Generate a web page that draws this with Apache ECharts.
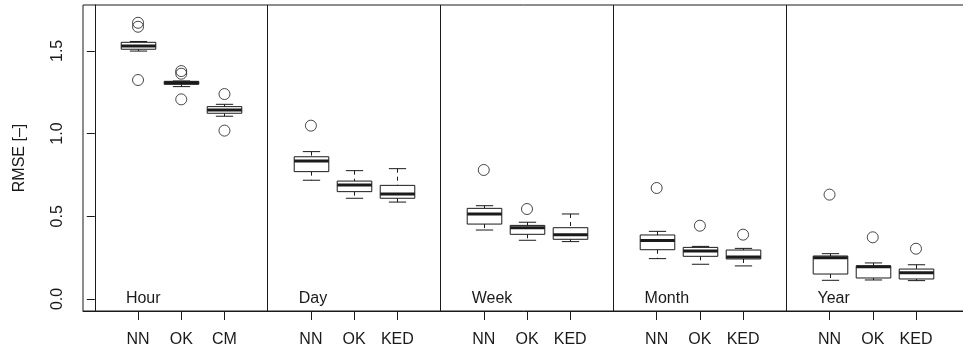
<!DOCTYPE html>
<html>
<head>
<meta charset="utf-8">
<title>RMSE by aggregation period</title>
<script src="https://cdn.jsdelivr.net/npm/echarts@6/dist/echarts.min.js"></script>
<style>
  html, body { margin: 0; padding: 0; background: #fff; }
  #chart { width: 963px; height: 356px; }
</style>
</head>
<body>
<div id="chart"></div>
<script>
// Aggregation periods (panels) and the methods compared in each
const periods = ['Hour', 'Day', 'Week', 'Month', 'Year'];
const methods = [
  ['NN', 'OK', 'CM'],
  ['NN', 'OK', 'KED'],
  ['NN', 'OK', 'KED'],
  ['NN', 'OK', 'KED'],
  ['NN', 'OK', 'KED']
];

// Box statistics, one entry per box in panel order
const whiskerLow  = [1.499, 1.284, 1.105, 0.718, 0.609, 0.586, 0.417, 0.355, 0.347, 0.244, 0.210, 0.200, 0.113, 0.115, 0.111];
const quartile1   = [1.510, 1.298, 1.123, 0.770, 0.649, 0.609, 0.453, 0.391, 0.361, 0.298, 0.258, 0.242, 0.151, 0.127, 0.121];
const medians     = [1.530, 1.307, 1.143, 0.834, 0.689, 0.635, 0.514, 0.431, 0.389, 0.353, 0.290, 0.254, 0.250, 0.195, 0.159];
const quartile3   = [1.552, 1.316, 1.163, 0.860, 0.713, 0.687, 0.548, 0.445, 0.431, 0.387, 0.312, 0.296, 0.260, 0.200, 0.181];
const whiskerHigh = [1.557, 1.318, 1.177, 0.891, 0.776, 0.788, 0.564, 0.464, 0.514, 0.409, 0.318, 0.306, 0.274, 0.218, 0.207];

// Outlying values: [box index, RMSE]
const outliers = [
  [0, 1.670], [0, 1.646], [0, 1.324],
  [1, 1.378], [1, 1.362], [1, 1.207],
  [2, 1.239], [2, 1.018],
  [3, 1.048],
  [6, 0.780], [7, 0.544],
  [9, 0.671], [10, 0.443], [11, 0.389],
  [12, 0.631], [13, 0.373], [14, 0.304]
];

// Y axis tick values
const yTicks = [0, 0.5, 1.0, 1.5];

// ---- derived layout: each panel holds three boxes and a gap slot ----
const slotsPerPanel = 4;
const boxPos = [];
const boxName = [];
periods.forEach((p, g) => {
  methods[g].forEach((m, k) => {
    boxPos.push(g * slotsPerPanel + k + 1);
    boxName.push(m);
  });
});
const labelByPos = {};
boxPos.forEach((x, i) => { labelByPos[x] = boxName[i]; });
const dividers = periods.slice(1).map((p, g) => (g + 1) * slotsPerPanel);

const boxData = boxPos.map((x, i) => [x, whiskerLow[i], quartile1[i], medians[i], quartile3[i], whiskerHigh[i]]);
const outlierData = outliers.map(o => [boxPos[o[0]], o[1]]);
const panelData = periods.map((p, g) => [g * slotsPerPanel + 1, 0]);

const ink = '#1a1a1a';
const font = 'Liberation Sans, Arial, Helvetica, sans-serif';

function renderBox(params, api) {
  const x = api.value(0);
  const pLo = api.coord([x, api.value(1)]);
  const pQ1 = api.coord([x, api.value(2)]);
  const pMd = api.coord([x, api.value(3)]);
  const pQ3 = api.coord([x, api.value(4)]);
  const pHi = api.coord([x, api.value(5)]);
  const half = api.size([0.8, 0])[0] / 2;
  const cap = half / 2;
  const cx = Math.round(pMd[0]) + 0.5;
  return {
    type: 'group',
    children: [
      { type: 'line', shape: { x1: cx, y1: pHi[1], x2: cx, y2: pQ3[1] },
        style: { stroke: ink, lineWidth: 1, lineDash: [4, 4] } },
      { type: 'line', shape: { x1: cx, y1: pQ1[1], x2: cx, y2: pLo[1] },
        style: { stroke: ink, lineWidth: 1, lineDash: [4, 4] } },
      { type: 'line', shape: { x1: cx - cap, y1: pHi[1], x2: cx + cap, y2: pHi[1] },
        style: { stroke: ink, lineWidth: 1 } },
      { type: 'line', shape: { x1: cx - cap, y1: pLo[1], x2: cx + cap, y2: pLo[1] },
        style: { stroke: ink, lineWidth: 1 } },
      { type: 'rect', shape: { x: cx - half, y: pQ3[1], width: 2 * half, height: pQ1[1] - pQ3[1] },
        style: { fill: '#fff', stroke: ink, lineWidth: 1 } },
      { type: 'line', shape: { x1: cx - half, y1: pMd[1], x2: cx + half, y2: pMd[1] },
        style: { stroke: ink, lineWidth: 3 } }
    ]
  };
}

function renderPanelLabel(params, api) {
  const p = api.coord([api.value(0), api.value(1)]);
  const off = api.size([0.28, 0])[0];
  return {
    type: 'text',
    x: p[0] - off,
    y: p[1],
    style: {
      text: periods[params.dataIndex],
      fill: ink,
      font: '16px ' + font,
      align: 'left',
      verticalAlign: 'middle'
    }
  };
}

const chart = echarts.init(document.getElementById('chart'), null, { renderer: 'canvas' });
chart.setOption({
  animation: false,
  backgroundColor: '#fff',
  grid: {
    left: 83, right: -8, top: 5, bottom: 45,
    show: true, borderColor: ink, borderWidth: 1, backgroundColor: 'transparent',
    containLabel: false, outerBoundsMode: 'none'
  },
  xAxis: {
    type: 'value',
    min: -0.273, max: 20.273,
    splitLine: { show: false },
    axisLine: { show: true, onZero: false, lineStyle: { color: ink } },
    axisTick: { show: true, length: 9, customValues: boxPos, lineStyle: { color: ink } },
    axisLabel: {
      show: true, customValues: boxPos, margin: 21,
      color: ink, fontSize: 16, fontFamily: font,
      formatter: v => labelByPos[v] || ''
    }
  },
  yAxis: {
    type: 'value',
    min: -0.0726, max: 1.7775,
    name: 'RMSE [–]',
    nameLocation: 'middle',
    nameRotate: 90,
    nameGap: 55,
    nameTextStyle: { color: ink, fontSize: 16, fontFamily: font },
    splitLine: { show: false },
    axisLine: { show: true, lineStyle: { color: ink } },
    axisTick: { show: true, length: 8, customValues: yTicks, lineStyle: { color: ink } },
    axisLabel: {
      show: true, customValues: yTicks, rotate: 90, margin: 17,
      color: ink, fontSize: 16, fontFamily: font,
      formatter: v => v.toFixed(1)
    }
  },
  series: [
    {
      type: 'custom',
      name: 'boxes',
      renderItem: renderBox,
      data: boxData,
      encode: { x: 0, y: [1, 2, 3, 4, 5] },
      z: 3,
      markLine: {
        silent: true,
        symbol: 'none',
        label: { show: false },
        lineStyle: { color: ink, width: 1, type: 'solid' },
        data: dividers.map(d => ({ xAxis: d }))
      }
    },
    {
      type: 'scatter',
      name: 'outliers',
      data: outlierData,
      symbol: 'circle',
      symbolSize: 11,
      itemStyle: { color: 'rgba(255,255,255,0)', borderColor: ink, borderWidth: 1 },
      z: 4
    },
    {
      type: 'custom',
      name: 'panels',
      renderItem: renderPanelLabel,
      data: panelData,
      z: 5
    }
  ]
});
</script>
</body>
</html>
